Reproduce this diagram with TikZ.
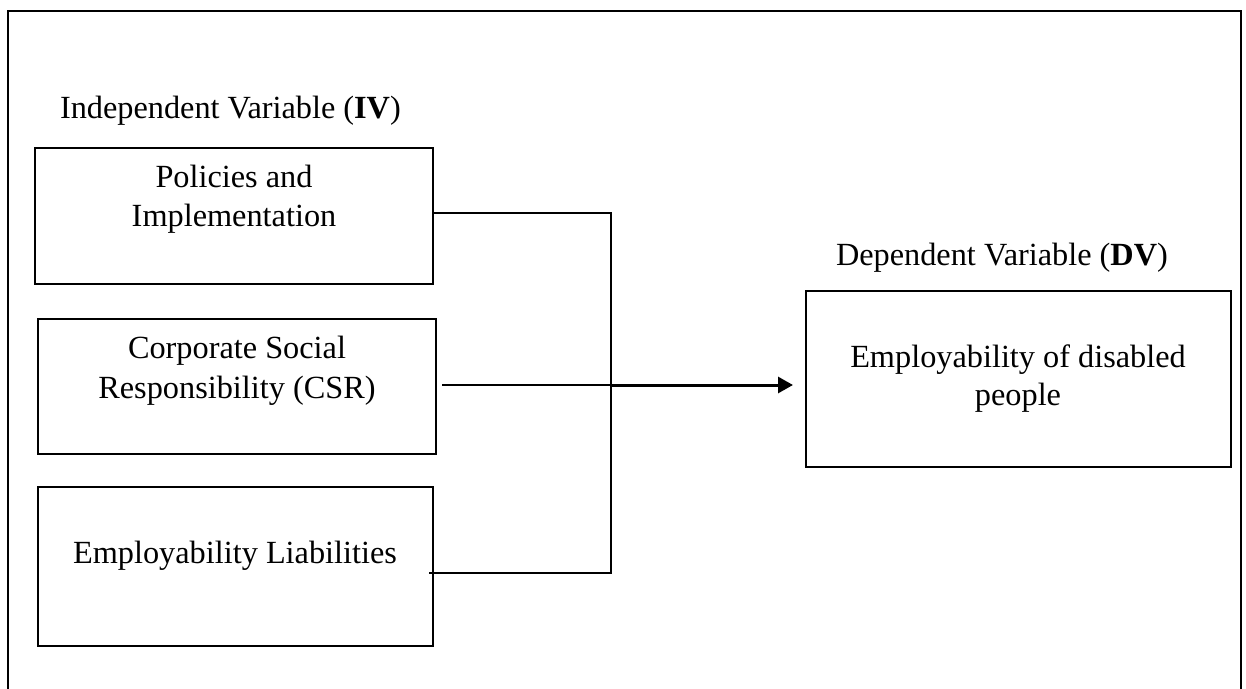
\documentclass[tikz,border=0pt]{standalone}
\usepackage{fontspec}
\setmainfont{Liberation Serif}
\usetikzlibrary{calc,arrows.meta}
\begin{document}
\begin{tikzpicture}[x=1pt,y=-1pt,
  every node/.style={inner sep=0pt,outer sep=0pt},
  box/.style={draw=black,line width=1.6pt,rectangle},
  txt/.style={font=\fontsize{32.3}{38.5}\selectfont,align=center},
  conn/.style={draw=black,line width=1.8pt},
  thin/.style={draw=black,line width=1.3pt},
  arr/.style={draw=black,line width=3pt,-{Triangle[length=15pt,width=16pt]}}]
\useasboundingbox (0,0) rectangle (1246,688);
\draw[line width=1.5pt] (8,11) rectangle (1241,695);
% boxes
\node[box,minimum width=398pt,minimum height=136pt] (b1) at (234,216) {};
\node[box,minimum width=398pt,minimum height=135pt] (b2) at (237,386.5) {};
\node[box,minimum width=395pt,minimum height=159pt] (b3) at (235.5,566.5) {};
\node[box,minimum width=425pt,minimum height=176pt] (dv) at (1018.5,379) {};
% texts
\node[txt,anchor=base west] (ivl) at (60,118) {Independent Variable (\textbf{IV})};
\node[txt,anchor=base west] (dvl) at (836,265) {Dependent Variable (\textbf{DV})};
\node[txt,anchor=base] (t1a) at (234,187) {Policies and};
\node[txt,anchor=base] (t1b) at (234,226) {Implementation};
\node[txt,anchor=base] (t2a) at (237,358) {Corporate Social};
\node[txt,anchor=base] (t2b) at (237,398) {Responsibility (CSR)};
\node[txt,anchor=base] (t3) at (235,563) {Employability Liabilities};
\node[txt,anchor=base] (t4a) at (1018,367) {Employability of disabled};
\node[txt,anchor=base] (t4b) at (1018,405) {people};
% connectors
\coordinate (jt) at (611,213);
\coordinate (j) at (611,385);
\coordinate (jb) at (611,573);
\draw[conn] ($(b1.east)+(0,-3)$) -- (jt) -- (jb) -- ($(b3.east)+(-4,6.5)$);
\draw[thin] ($(b2.east)+(6,-1.5)$) -- (j);
\draw[arr] (j) -- ($(j -| dv.west)+(-13,0)$);
\end{tikzpicture}
\end{document}
